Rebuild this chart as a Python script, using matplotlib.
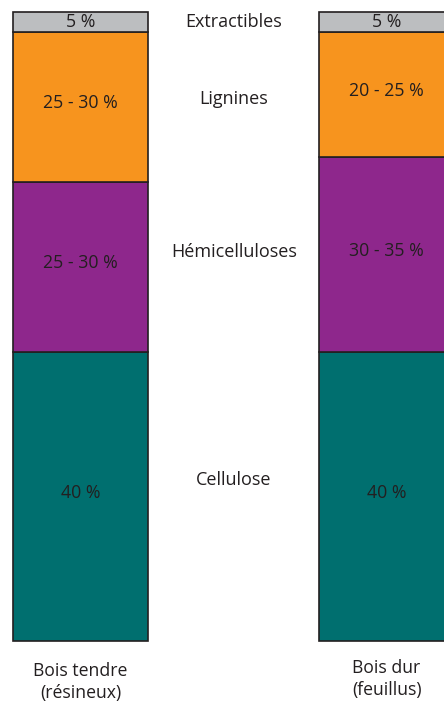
"""
Composition du bois : bois tendre vs bois dur (barres empilées)
"""

import numpy as np
import matplotlib.pyplot as plt

plt.rcParams.update({
    'font.family': ['Open Sans', 'DejaVu Sans'],
    'font.size': 13,
})

components = ['Cellulose', 'Hémicelluloses', 'Lignines', 'Extractibles']
colors = ['#006F6F', '#8E278C', '#F7941E', '#BCBEC0']

woods = ['Bois tendre\n(résineux)', 'Bois dur\n(feuillus)']

# share of bar height taken by each component (bottom -> top)
softwood_share = [46.0, 27.0, 23.8, 3.2]
hardwood_share = [45.9, 31.0, 19.9, 3.2]

softwood_labels = ['40 %', '25 - 30 %', '25 - 30 %', '5 %']
hardwood_labels = ['40 %', '30 - 35 %', '20 - 25 %', '5 %']

# where the component names sit on the middle column
name_heights = [25.6, 61.8, 86.2, 98.4]

fig = plt.figure(figsize=(4.44, 7.04), dpi=100)
ax = fig.add_axes([0, 0, 1, 1])

positions = [0, 2.267]
shares = [softwood_share, hardwood_share]
labels = [softwood_labels, hardwood_labels]

for pos, share, labs in zip(positions, shares, labels):
    bottoms = np.concatenate([[0], np.cumsum(share)[:-1]])
    ax.bar([pos] * len(share), share, bottom=bottoms, width=1, align='edge',
           color=colors, edgecolor='#231F20', linewidth=1.2)
    for b, h, lab in zip(bottoms, share, labs):
        # small texts in the thin top band sit centred, others a bit above centre
        dy = 0 if h < 5 else 0.6
        ax.text(pos + 0.5, b + h / 2 + dy, lab, ha='center', va='center',
                fontsize=12.8, color='#231F20')

for name, y in zip(components, name_heights):
    ax.text(1.637, y, name, ha='center', va='center', fontsize=13, color='#231F20')

ax.text(positions[0] + 0.5, -6.5, woods[0], ha='center', va='center',
        fontsize=12.7, color='#231F20', linespacing=1.3)
ax.text(positions[1] + 0.5, -6.0, woods[1], ha='center', va='center',
        fontsize=12.7, color='#231F20', linespacing=1.3)

ax.set_xlim(-13 / 135, 431 / 135)
ax.set_ylim(-10.0, 101.9)
ax.axis('off')

fig.savefig('out.png', dpi=100)
